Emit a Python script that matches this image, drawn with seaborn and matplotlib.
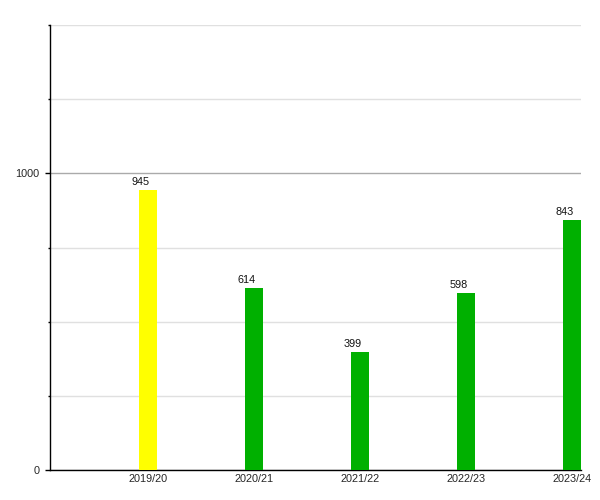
import matplotlib
matplotlib.use("Agg")
import matplotlib.pyplot as plt
import seaborn as sns
import pandas as pd

# Data
seasons = ["2019/20", "2020/21", "2021/22", "2022/23", "2023/24"]
values = [945, 614, 399, 598, 843]
bar_colors = ["#ffff00", "#00b000", "#00b000", "#00b000", "#00b000"]

df = pd.DataFrame({"season": seasons, "value": values})

sns.set_style("white")
plt.rcParams["font.family"] = ["Liberation Sans", "DejaVu Sans"]

fig = plt.figure(figsize=(6, 5), dpi=100)
ax = fig.add_axes([50 / 600, 30 / 500, 531 / 600, 445 / 500])

sns.barplot(data=df, x="season", y="value", hue="season", palette=bar_colors,
            width=0.175, saturation=1, legend=False, linewidth=0,
            ax=ax, zorder=3)

ax.set_xlim(-0.925, 4.085)
ax.set_ylim(0, 1500)

# y ticks: labelled majors, unlabelled minors every 250
ax.set_yticks([0, 1000])
ax.set_yticklabels(["0", "1000"])
ax.set_yticks([250, 500, 750, 1250, 1500], minor=True)
ax.grid(axis="y", which="major", color="#aaaaaa", linewidth=1, zorder=0)
ax.grid(axis="y", which="minor", color="#e0e0e0", linewidth=1, zorder=0)
ax.set_axisbelow(True)

ax.tick_params(axis="y", which="major", left=True, length=3.6, width=1,
               color="black", labelsize=7.8, pad=4)
ax.tick_params(axis="y", which="minor", left=True, length=1.5, width=1,
               color="black")
ax.tick_params(axis="x", bottom=False, length=0, labelsize=7.8, pad=3)

for side in ["top", "right"]:
    ax.spines[side].set_visible(False)
for side in ["left", "bottom"]:
    ax.spines[side].set_color("black")
    ax.spines[side].set_linewidth(1)

ax.set_xlabel("")
ax.set_ylabel("")

# value labels above bars, slightly shifted left
for patch, val in zip(ax.patches, values):
    cx = patch.get_x() + patch.get_width() / 2
    ax.annotate(str(val), (cx, patch.get_height()), xytext=(-5.4, 2),
                textcoords="offset points", ha="center", va="bottom",
                fontsize=7.8, color="#111111")

plt.savefig("out.png", dpi=100)
